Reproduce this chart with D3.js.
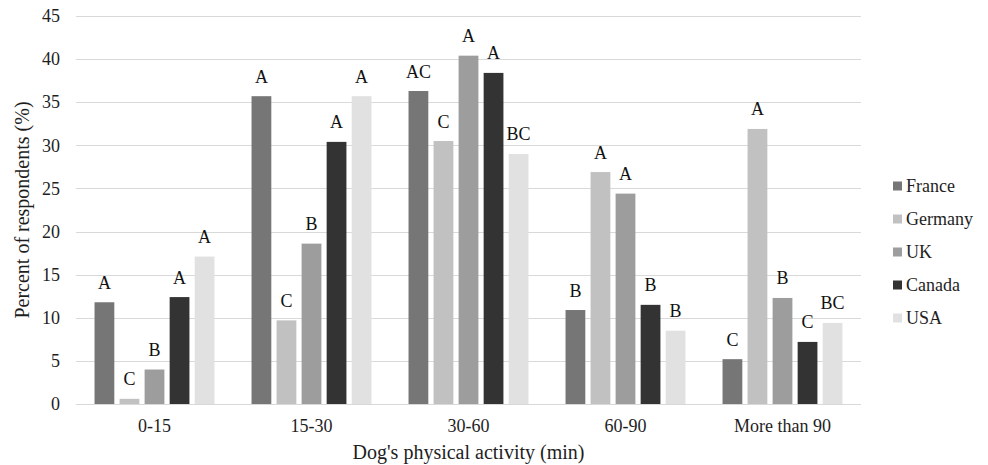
<!DOCTYPE html>
<html>
<head>
<meta charset="utf-8">
<script src="https://cdn.jsdelivr.net/npm/d3@7"></script>
<style>
  html, body { margin: 0; padding: 0; background: #fff; }
  svg { display: block; font-family: "Liberation Serif", "Times New Roman", serif; }
</style>
</head>
<body>
<svg id="chart" width="988" height="465"></svg>
<script>
// Activity duration groups
const categories = ["0-15", "15-30", "30-60", "60-90", "More than 90"];
const countries = ["France", "Germany", "UK", "Canada", "USA"];
const colors = ["#767676", "#c1c1c1", "#9d9d9d", "#333333", "#e1e1e1"];

// Percent of respondents per country, in category order
const france  = [11.8, 35.7, 36.3, 10.9, 5.2];
const germany = [0.6, 9.7, 30.5, 26.9, 31.9];
const uk      = [4.0, 18.6, 40.4, 24.4, 12.3];
const canada  = [12.4, 30.4, 38.4, 11.5, 7.2];
const usa     = [17.1, 35.7, 29.0, 8.5, 9.4];

// Significance letters per country, in category order
const lettersFrance  = ["A", "A", "AC", "B", "C"];
const lettersGermany = ["C", "C", "C", "A", "A"];
const lettersUK      = ["B", "B", "A", "A", "B"];
const lettersCanada  = ["A", "A", "A", "B", "C"];
const lettersUSA     = ["A", "A", "BC", "B", "BC"];

const yTicks = [0, 5, 10, 15, 20, 25, 30, 35, 40, 45];

const seriesValues = [france, germany, uk, canada, usa];
const seriesLetters = [lettersFrance, lettersGermany, lettersUK, lettersCanada, lettersUSA];

const FONT = "Liberation Serif";
const svg = d3.select("#chart");
const margin = { left: 76, right: 127, top: 16, bottom: 61 };
const W = 988, H = 465;

const x0 = d3.scaleBand().domain(categories)
  .range([margin.left, W - margin.right]).paddingInner(0).paddingOuter(0);
const x1 = d3.scaleBand().domain(countries)
  .range([0, x0.bandwidth()]).paddingInner(0.21).paddingOuter(0.74);
const y = d3.scaleLinear().domain([0, 45]).range([H - margin.bottom, margin.top]);

// Gridlines
svg.append("g").selectAll("line").data(yTicks).join("line")
  .attr("x1", margin.left).attr("x2", W - margin.right)
  .attr("y1", d => Math.round(y(d)) + 0.5).attr("y2", d => Math.round(y(d)) + 0.5)
  .attr("stroke", "#d9d9d9").attr("stroke-width", 1.2);

// Y axis labels
const yAxis = svg.append("g").attr("transform", `translate(${margin.left - 16},0)`)
  .call(d3.axisLeft(y).tickValues(yTicks).tickSize(0).tickPadding(0));
yAxis.select(".domain").remove();
yAxis.selectAll("text").attr("font-family", FONT).attr("font-size", 18).attr("fill", "#1e1e1e");

// X axis labels
const xAxis = svg.append("g").attr("transform", `translate(0,${y(0)})`)
  .call(d3.axisBottom(x0).tickSize(0).tickPadding(15));
xAxis.select(".domain").remove();
xAxis.selectAll("text").attr("font-family", FONT).attr("font-size", 18).attr("fill", "#1e1e1e");

// Bars and letters
const rows = [];
categories.forEach((c, ci) => {
  countries.forEach((k, ki) => {
    rows.push({ cat: c, country: k, value: seriesValues[ki][ci], letter: seriesLetters[ki][ci], color: colors[ki] });
  });
});

svg.append("g").selectAll("rect").data(rows).join("rect")
  .attr("x", d => x0(d.cat) + x1(d.country))
  .attr("width", x1.bandwidth())
  .attr("y", d => y(d.value))
  .attr("height", d => y(0) - y(d.value))
  .attr("fill", d => d.color);

svg.append("g").selectAll("text").data(rows).join("text")
  .attr("x", d => x0(d.cat) + x1(d.country) + x1.bandwidth() / 2)
  .attr("y", d => y(d.value) - 13.5)
  .attr("text-anchor", "middle")
  .attr("font-family", FONT)
  .attr("font-size", 18)
  .attr("fill", "#111")
  .text(d => d.letter);

// Axis titles
svg.append("text")
  .attr("transform", `translate(24,${(y(0) + y(45)) / 2}) rotate(-90)`)
  .attr("text-anchor", "middle").attr("dominant-baseline", "middle")
  .attr("font-family", FONT)
  .attr("font-size", 20).attr("fill", "#1e1e1e")
  .text("Percent of respondents (%)");

svg.append("text")
  .attr("x", (margin.left + W - margin.right) / 2).attr("y", 459)
  .attr("text-anchor", "middle")
  .attr("font-family", FONT)
  .attr("font-size", 20).attr("fill", "#1e1e1e")
  .text("Dog's physical activity (min)");

// Legend
const legend = svg.append("g").attr("transform", "translate(893,186)");
countries.forEach((k, i) => {
  const g = legend.append("g").attr("transform", `translate(0,${i * 33})`);
  g.append("rect").attr("x", 0).attr("y", -4.5).attr("width", 9).attr("height", 9).attr("fill", colors[i]);
  g.append("text").attr("x", 13).attr("y", 0).attr("dominant-baseline", "central")
    .attr("font-family", FONT)
    .attr("font-size", 18).attr("fill", "#1e1e1e").text(k);
});
</script>
</body>
</html>
